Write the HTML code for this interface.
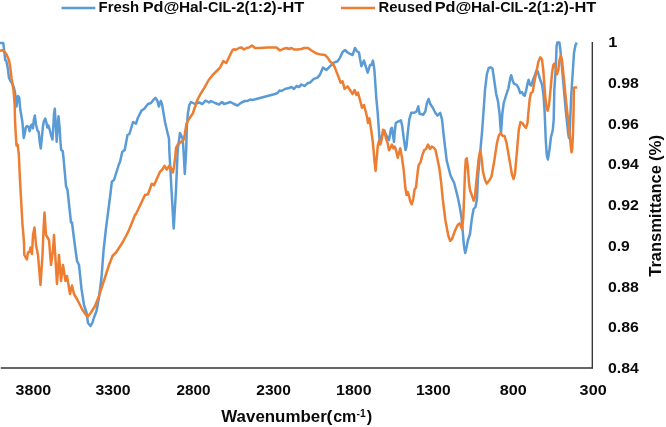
<!DOCTYPE html>
<html><head><meta charset="utf-8"><title>FTIR</title>
<style>
html,body{margin:0;padding:0;background:#fff;}
svg{display:block}
text{font-family:"Liberation Sans",sans-serif;font-weight:bold;fill:#0a0a0a;}
</style></head><body>
<svg width="666" height="427" viewBox="0 0 666 427">
<rect width="666" height="427" fill="#fff"/>
<line x1="0.8" y1="368.0" x2="592.9" y2="368.0" stroke="#333" stroke-width="1.35"/>
<line x1="592.3" y1="42.0" x2="592.3" y2="368.6" stroke="#333" stroke-width="1.35"/>
<polyline fill="none" stroke="#5B9BD5" stroke-width="2.5" stroke-linejoin="round" stroke-linecap="butt" points="0,43 3.2,43 3.7,46.6 4.7,55 5.3,60.3 6.3,60.9 7.9,68.8 9,78 10.5,81 12.5,84 14,88 15,92.5 16.5,106.5 18,96 19.2,97.5 20.3,109.5 21.8,118.5 22.5,123 23.7,138 24.8,133.5 25.8,127.5 27,126 28.5,126.8 29.6,131.3 30.8,126 31.8,124.5 33,128.3 33.8,120 34.8,115.5 36,124.5 37.5,130.5 38.7,132 39.8,142.5 40.8,148.5 41.7,139.5 42.8,127.5 43.8,121.5 45.3,118.5 46.5,123 47.3,127.5 48.3,125.3 49.5,129 51,135 52.5,139.5 53.3,127.5 54,114 54.8,108.8 55.5,120 56.7,141.8 57.8,124.5 58.5,116.3 59.6,127.5 60.5,142.5 61.2,150 62.7,151 63.5,158 66,186 67.5,190 71,222.5 72,222.5 74.5,242.5 77,261 79,265 81.5,289 84,305 86.5,312.5 88,323 90.5,326 92.5,322.5 94,317.5 96.5,311 99,297.5 101.5,277.5 103.6,250 105.8,230 110.6,192.5 111.8,181.8 114,180 119,164 120,162 122.2,152 124.7,150 127.5,135 129.4,134 133,122 136,123.7 137.8,118 141.5,110.6 144.3,108.7 148,104 151,103 153.7,99.4 155.6,97.9 157.5,101 158.8,106.5 160.8,100.9 162,104 165,122 167.8,134 169,138.7 169.3,150 171.5,190 173.7,228.5 176,190 177.7,150 180,133 182.7,138.7 183.5,150 184.8,174 186.2,150 186.8,127.5 187.8,114 189.3,105 191,102 193,103 195,104 199,102.5 202.5,104 205.5,100.5 209,102.5 211,101 215,103 219,104.5 222,102 224,104 227.5,103 230.5,102 234,104 237.5,105.5 241.5,102.5 245,101 247.5,101 250,99.5 252.5,100 260,98 267.5,96 275,94 277.5,93 279.5,90.5 281.5,91 285,89 289,88 291.5,87 294,89 296.5,86 299,87 301.5,84.5 304.5,86 308,83 310,82.6 313.8,78.9 317.5,77.6 320,74.6 323,67.6 326.3,70 330,66.3 333.8,62.6 337.6,61.3 340,57.6 342.6,52 345,50 347.6,52.5 350,53.8 352.6,55 355,48 357,51.3 359,52.5 360,58.8 361.4,66.3 364,60.6 365.7,66.3 367.7,72.6 370,65 371.4,65 373,60.6 374.4,70 376.3,98 377.7,113 378.8,128.7 379.6,141 381.5,137 384,130.6 386.8,136 389,140 391,128.7 392,127.8 392.8,134 394,142 394.7,132.5 395.8,123 398,121.6 400.9,120.3 402.2,126 403.7,138 405.5,150 406.5,146.5 407.8,132.5 409.3,119.4 411.2,112.8 414,112.8 416.5,111.5 418.3,106.4 419.6,113.7 423.3,114.7 425.3,111.5 427,102.7 428.6,99 430.3,104 432.8,107.7 435.3,112.7 437.4,115.6 440.2,112.8 442,119.4 444,138 446.7,160.6 450.5,175.5 454.2,183 457.7,196.9 459.6,206 461.5,217.5 462.8,232.4 463.9,245.5 465.2,253 466.5,247.4 468,240 470,234 471.8,219 473.6,209 475.5,207 477,198.7 477.8,180 478.4,171.8 480.3,151 482,132.5 483.5,112 485,90 486.9,74 488.7,68 490.6,67.3 492.5,68.6 494.3,80.8 496.2,94 498,101.4 499.6,114 500.3,125 501,133.4 502.3,114 503.7,103 506.5,94 508.4,88.3 510.3,78 511.2,75.2 512.7,80.8 514,83.6 516.8,85 518.7,88.3 520.2,93 522,92 523.4,94.9 524.7,95.8 526.2,90.2 527.7,82.7 528.6,79.9 530,84.6 531.4,85.5 532.7,80.8 534.6,76 536.5,70.5 537.8,71.5 539.3,77 542,84.6 543.4,94 544.6,111 545.8,141 546.9,155.8 547.9,159.5 549.5,149.5 551,136.9 552.7,130.5 553.7,120 554.3,90 555.8,67.7 556.6,46 557.3,42.6 559.4,42.6 560.4,50 561.3,60 562.2,70 563.5,85 565.7,110 567,122 568.4,135 569,138 569.7,133 570.5,113 571.2,96 572,84 572.9,70 574,53 575.4,45.4 576.8,42.6"/>
<polyline fill="none" stroke="#ED7D31" stroke-width="2.5" stroke-linejoin="round" stroke-linecap="butt" points="0,50.9 2.6,50.3 4.7,51.9 6.8,55 9,60.3 10.5,68.8 11.6,79 12.5,84 13.5,90 14.7,105 15,120 15.8,135 16.5,145.5 17.7,144.8 18.8,154 20,180 22.5,225 23,230 24,242.5 24.3,255 26.8,259.5 28,252.5 29.5,252 30.5,247.5 32,254 33,235 34.5,227.5 36,245 38,255 40.5,285 42.5,255 43.5,230 44.5,212.5 46,235 49,240 51,265 53,250 54,235 57,284 59,255 61,281 63,265 65.5,281 67,276 70,294 72,285.5 74,294 77.5,300 82.5,310 87.5,317 91,312.5 95,306 99,296 102.5,285 105,277.5 109,265 112.5,256 116,252.5 122.5,242.5 126,236 129,230 135,215 136,214 145,195 148,194.3 151.8,183.8 154,185.3 157,178.5 160,171.8 162.3,169.5 164.5,165.8 166.8,169.5 169.3,165.8 171.3,168.8 172.8,172.5 173.8,168 175,159 176,148 178,144 180.8,142.4 183.7,139.6 184.6,135 186.5,123.7 188.3,120 192.8,113.5 195.3,106 197.5,99.5 200.5,94 204,88.3 208.7,80 212.5,75.2 217.2,70.5 220,67.7 223.3,61.1 226.3,63 230.2,54.8 232.6,50 234.5,49.2 235.5,50 239,48 241.5,47.5 244,49.5 246.5,48 249,47.5 252,45.5 255,48 260,48 267.5,47.5 276.5,47.5 280,50.5 283,49 286.5,48 289,49 291.5,48 294,49.5 297.5,49.5 301.5,49 304,48 308,48 311.5,50.5 315,52.6 317.5,53.8 321.3,54.6 325,55 327.6,57.6 330,61.3 333.8,65 336.3,71.4 338.8,77.6 340.6,82.6 342.6,81.4 344.6,88.9 347.6,86.4 350,90 352.6,94 354.6,90 356.4,95 358,92.6 360,100 362,107.7 364,105 365.3,110 367.2,117.5 368,123 369.4,118.4 371,128.7 372.8,141.8 374.6,162.4 375.6,170.9 376.5,160.6 377.8,145.6 379,141 380.3,144.6 381.6,140 383,129.7 384.4,130.6 385.9,138 387.8,143.7 389,150.3 390.6,147.5 392,144.6 393.4,148.4 394.7,146.5 396.2,151 397.7,157.8 399,153 400.3,148.4 401.8,156.8 403.7,170 405.3,187.5 406.6,195 407.7,192 409,196 410.3,201.5 411.8,204.3 413.3,198.7 414.6,189.4 416,187.5 417.7,171.8 418.7,165 420.5,162.4 422.4,155 424.3,150 426,149 428,144.6 430,149 431.8,146.5 433.6,147.5 435.5,150 437.4,158.7 439.3,168 441,181 442.7,198.7 445.5,221 448.4,236 450.2,240.9 452,239 455,230.6 457.7,225 459.6,223.4 460.9,226 462,229 463.3,217.5 464.2,195 465,172 465.8,159.6 466.8,158.3 467.7,166 469,183 470,190 471.8,195 473.6,200.6 475,197.8 475.5,190 477,175 478.6,159 480.3,150.3 481.6,158.7 483,171.8 485,180 486.8,183.6 489.6,180 491.5,176.5 494.3,160.6 497,142.8 499,135 500.5,133.4 502.7,135.8 504.6,136 506.5,142.8 509.3,158.7 512,174.6 513.6,179 515,173.7 516.8,153 518.7,130.6 520.5,122 522.4,123 524.3,126 526,127.8 527.5,123 528.4,112.5 529.8,98.4 531,92.8 532.6,92 533.3,88.3 534.6,80.8 536.5,71.5 538.3,62 540.2,57.4 542,59.3 543.4,71.5 545,94 546.4,107 547.7,110.8 549,105 550.5,90 552,73.3 553.3,65 554.3,63.6 555.8,68.6 557,74.3 558.4,69.6 559.5,60 560.8,55.5 562,60 563,70 564.4,84 565.7,97 567,110 568.5,123 570,138 571,148 571.6,152.3 572.3,148 573,132 573.6,110 573.9,88 574.4,87.6 577.2,87.6"/>
<line x1="61.5" y1="8" x2="95.3" y2="8" stroke="#5B9BD5" stroke-width="2.5"/>
<line x1="341" y1="8" x2="375" y2="8" stroke="#ED7D31" stroke-width="2.5"/>
<text x="98.55" y="12" font-size="14.2" textLength="40.69" lengthAdjust="spacingAndGlyphs">Fresh</text>
<text x="142.65" y="12" font-size="14.2" textLength="36.67" lengthAdjust="spacingAndGlyphs">Pd@</text>
<text x="178.91" y="12" font-size="14.2" textLength="29.1" lengthAdjust="spacingAndGlyphs">Hal-</text>
<text x="208.09" y="12" font-size="14.2" textLength="28.01" lengthAdjust="spacingAndGlyphs">CIL-</text>
<text x="236.17" y="12" font-size="14.2" textLength="40.49" lengthAdjust="spacingAndGlyphs">2(1:2)</text>
<text x="277.02" y="12" font-size="14.2" textLength="27.24" lengthAdjust="spacingAndGlyphs">-HT</text>
<text x="378.55" y="12" font-size="14.2" textLength="53.7" lengthAdjust="spacingAndGlyphs">Reused</text>
<text x="434.75" y="12" font-size="14.2" textLength="36.67" lengthAdjust="spacingAndGlyphs">Pd@</text>
<text x="471.01" y="12" font-size="14.2" textLength="29.1" lengthAdjust="spacingAndGlyphs">Hal-</text>
<text x="500.19" y="12" font-size="14.2" textLength="28.01" lengthAdjust="spacingAndGlyphs">CIL-</text>
<text x="528.27" y="12" font-size="14.2" textLength="40.49" lengthAdjust="spacingAndGlyphs">2(1:2)</text>
<text x="569.12" y="12" font-size="14.2" textLength="27.24" lengthAdjust="spacingAndGlyphs">-HT</text>
<text x="608.15" y="47.2" font-size="14.2" textLength="9.1" lengthAdjust="spacingAndGlyphs">1</text>
<text x="608.0" y="87.9" font-size="14.2" textLength="30.9" lengthAdjust="spacingAndGlyphs">0.98</text>
<text x="608.0" y="128.6" font-size="14.2" textLength="30.9" lengthAdjust="spacingAndGlyphs">0.96</text>
<text x="608.0" y="169.4" font-size="14.2" textLength="30.9" lengthAdjust="spacingAndGlyphs">0.94</text>
<text x="608.0" y="210.1" font-size="14.2" textLength="30.9" lengthAdjust="spacingAndGlyphs">0.92</text>
<text x="608.0" y="250.8" font-size="14.2" textLength="21.8" lengthAdjust="spacingAndGlyphs">0.9</text>
<text x="608.0" y="291.5" font-size="14.2" textLength="30.9" lengthAdjust="spacingAndGlyphs">0.88</text>
<text x="608.0" y="332.2" font-size="14.2" textLength="30.9" lengthAdjust="spacingAndGlyphs">0.86</text>
<text x="608.0" y="373.0" font-size="14.2" textLength="30.9" lengthAdjust="spacingAndGlyphs">0.84</text>
<text x="15.64" y="394.9" font-size="14.2" textLength="35.6" lengthAdjust="spacingAndGlyphs">3800</text>
<text x="95.44" y="394.9" font-size="14.2" textLength="35.18" lengthAdjust="spacingAndGlyphs">3300</text>
<text x="176.46" y="394.9" font-size="14.2" textLength="34.05" lengthAdjust="spacingAndGlyphs">2800</text>
<text x="256.25" y="394.9" font-size="14.2" textLength="34.56" lengthAdjust="spacingAndGlyphs">2300</text>
<text x="336.08" y="394.9" font-size="14.2" textLength="35.46" lengthAdjust="spacingAndGlyphs">1800</text>
<text x="415.9" y="394.9" font-size="14.2" textLength="34.72" lengthAdjust="spacingAndGlyphs">1300</text>
<text x="499.83" y="394.9" font-size="14.2" textLength="27.04" lengthAdjust="spacingAndGlyphs">800</text>
<text x="579.63" y="394.9" font-size="14.2" textLength="27.04" lengthAdjust="spacingAndGlyphs">300</text>
<text x="221.3" y="422.4" font-size="16.4" textLength="105.44" lengthAdjust="spacingAndGlyphs">Wavenumber</text>
<text x="326.48" y="422.4" font-size="16.4" textLength="5.95" lengthAdjust="spacingAndGlyphs">(</text>
<text x="333.17" y="422.4" font-size="16.4" textLength="23.16" lengthAdjust="spacingAndGlyphs">cm</text>
<text x="356.6" y="417.0" font-size="10" textLength="9.2" lengthAdjust="spacingAndGlyphs">-1</text>
<text x="366.65" y="422.4" font-size="16.4" textLength="5.47" lengthAdjust="spacingAndGlyphs">)</text>
<g transform="translate(661.4,276.5) rotate(-90)">
<text x="-0.25" y="0" font-size="16.4" textLength="111.7" lengthAdjust="spacingAndGlyphs">Transmittance</text>
<text x="115.43" y="0" font-size="16.4" textLength="26.14" lengthAdjust="spacingAndGlyphs">(%)</text>
</g>
</svg>
</body></html>
